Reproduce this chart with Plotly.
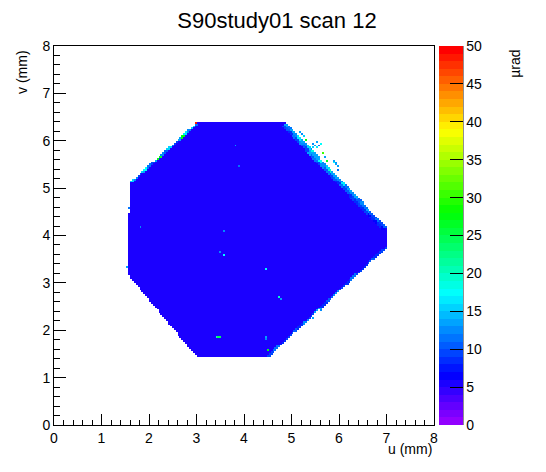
import colorsys
import numpy as np
import plotly.graph_objects as go

# ---------------- data ----------------
title_text = "S90study01 scan 12"
x_title = "u (mm)"
y_title = "v (mm)"
z_title = "µrad"

u_range = [0, 8]
v_range = [0, 8]
z_range = [0, 50]
bin_width = 0.04

# outline of the filled (measured) region, in mm
outline_u = [3.01, 4.88, 7.00, 7.00, 4.51, 3.01, 1.54, 1.60]
outline_v = [6.39, 6.39, 4.18, 3.74, 1.43, 1.43, 3.19, 5.13]
base_value = 5.5  # µrad, the bulk of the map

# noisy band along the upper-right edge (from top end to right tip)
ur_start = (4.88, 6.39)
ur_end = (7.00, 4.18)
ur_outer_values = [13, 11, 14, 12, 16, 13, 12, 15, 18, 14, 13, 17, 12, 15, 19, 13,
                   14, 12, 16, 11, 13, 12, 14, 10, 12, 11, 13, 10, 9, 11, 9, 10]
ur_inner_values = [9, 10, 8, 11, 9, 12, 10, 9, 13, 10, 11, 9, 12, 10, 11, 9,
                   10, 8, 11, 9, 10, 8, 9, 8, 9, 8, 9, 7, 8, 7, 8, 7]

# thin light fringe along the upper-left edge (from left corner to top)
ul_start = (1.60, 5.13)
ul_end = (3.01, 6.39)
ul_values = [15, 12, 9, 13, 17, 11, 9, 14, 26, 12, 10, 15, 11, 9, 13, 27, 16, 12, 15, 11]

# faint fringe along the lower-right edge (from right tip to bottom)
lr_start = (7.00, 3.74)
lr_end = (4.51, 1.43)
lr_values = [9, 8, 10, 8, 9, 11, 8, 9, 12, 10, 8, 14, 9, 12, 8, 10, 9, 8, 11, 9]

# isolated hot cells (u, v in mm; value in µrad)
spot_u = [5.49, 5.55, 5.45, 5.52, 5.60, 5.43, 5.47, 5.57,
          5.92, 5.97, 5.88, 5.95, 5.94, 5.98, 5.90,
          5.18, 5.24, 5.21, 5.70, 5.64, 5.73, 5.28,
          2.99, 1.87, 1.81, 1.54, 1.56,
          3.58, 3.50, 3.56, 4.46, 4.76, 4.78, 3.47, 3.51, 3.43, 4.46, 4.46,
          3.83, 3.89, 4.51, 5.45, 5.60]
spot_v = [5.90, 5.84, 5.94, 5.96, 5.95, 5.80, 5.87, 5.91,
          5.48, 5.44, 5.54, 5.52, 5.49, 5.38, 5.58,
          6.16, 6.08, 6.12, 5.64, 5.74, 5.57, 6.01,
          6.39, 5.34, 4.16, 3.34, 4.60,
          3.57, 3.64, 4.11, 3.31, 2.68, 2.66, 1.88, 1.88, 1.88, 1.86, 1.82,
          5.89, 5.44, 1.58, 2.28, 2.43]
spot_val = [14, 16, 12, 13, 17, 12, 15, 11,
            15, 13, 17, 12, 14, 11, 13,
            13, 15, 12, 14, 30, 26, 27,
            48, 15, 12, 14, 11,
            17, 12, 12, 17, 19, 14, 24, 24, 20, 13, 12,
            13, 11, 26, 14, 12]

z_ticks = [0, 5, 10, 15, 20, 25, 30, 35, 40, 45, 50]

# ---------------- build the histogram ----------------
nb = int(round((u_range[1] - u_range[0]) / bin_width))
xc = u_range[0] + bin_width * (np.arange(nb) + 0.5)
yc = v_range[0] + bin_width * (np.arange(nb) + 0.5)
X, Y = np.meshgrid(xc, yc)


def inside(px, py, pu, pv):
    res = np.zeros(px.shape, dtype=bool)
    n = len(pu)
    j = n - 1
    for i in range(n):
        xi, yi, xj, yj = pu[i], pv[i], pu[j], pv[j]
        cond = ((yi > py) != (yj > py)) & (px < (xj - xi) * (py - yi) / ((yj - yi) + 1e-12) + xi)
        res ^= cond
        j = i
    return res


def edge_coords(start, end):
    ax, ay = start
    bx, by = end
    dx, dy = bx - ax, by - ay
    L = np.hypot(dx, dy)
    t = ((X - ax) * dx + (Y - ay) * dy) / (L * L)
    dist = np.abs((X - ax) * dy - (Y - ay) * dx) / L
    return t, dist


mask = inside(X, Y, outline_u, outline_v)
Z = np.full(X.shape, np.nan)
Z[mask] = base_value


def paint(start, end, values, dmin, dmax):
    t, dist = edge_coords(start, end)
    sel = mask & (dist >= dmin) & (dist < dmax) & (t >= 0) & (t <= 1)
    idx = np.clip((t * len(values)).astype(int), 0, len(values) - 1)
    vals = np.array(values, dtype=float)
    Z[sel] = vals[idx[sel]]


paint(ur_start, ur_end, ur_inner_values, 0.06, 0.12)
paint(ur_start, ur_end, ur_outer_values, 0.0, 0.06)
paint(ul_start, ul_end, ul_values, 0.0, 0.045)
paint(lr_start, lr_end, lr_values, 0.0, 0.04)

for su, sv, val in zip(spot_u, spot_v, spot_val):
    i = int((sv - v_range[0]) / bin_width)
    j = int((su - u_range[0]) / bin_width)
    if 0 <= i < nb and 0 <= j < nb:
        Z[i, j] = val

z_list = [[None if np.isnan(v) else float(v) for v in row] for row in Z]

# ROOT "pretty" palette: 50 colours, violet -> red
ncol = 50
colorscale = []
for i in range(ncol):
    hue = (280 - (i + 1) * (280 / ncol)) / 360.0
    r, g, b = colorsys.hls_to_rgb(hue, 0.5, 1.0)
    c = "rgb(%d,%d,%d)" % (round(r * 255), round(g * 255), round(b * 255))
    colorscale.append([i / ncol, c])
    colorscale.append([(i + 1) / ncol, c])

FONT = "Liberation Sans, Arial, Helvetica, sans-serif"

# page body has an 8 px margin, so the figure is 8 px smaller and offset
W, H = 538, 464
ML, MT = 46, 38
PW, PH = 380, 379

fig = go.Figure()
fig.add_trace(go.Heatmap(
    x=xc, y=yc, z=z_list,
    zmin=z_range[0], zmax=z_range[1],
    colorscale=colorscale,
    hoverongaps=False,
    colorbar=dict(
        x=1.013, xanchor="left", xref="paper",
        y=0.5, yanchor="middle", len=1.0, lenmode="fraction",
        thickness=24, thicknessmode="pixels",
        xpad=0, ypad=0, outlinewidth=0,
        tickvals=z_ticks, ticks="inside", ticklen=13, tickcolor="black",
        tickfont=dict(family=FONT, size=14, color="black"),
    ),
))

fig.update_xaxes(
    range=u_range, tickvals=list(range(0, 9)),
    ticks="inside", ticklen=11, tickcolor="black",
    minor=dict(dtick=0.2, ticks="inside", ticklen=5, tickcolor="black", showgrid=False),
    showline=True, linecolor="black", linewidth=1, mirror=True,
    showgrid=False, zeroline=False,
    tickfont=dict(family=FONT, size=14, color="black"),
)
fig.update_yaxes(
    range=v_range, tickvals=list(range(0, 9)),
    ticks="inside", ticklen=12, tickcolor="black",
    minor=dict(dtick=0.2, ticks="inside", ticklen=6, tickcolor="black", showgrid=False),
    showline=True, linecolor="black", linewidth=1, mirror=True,
    showgrid=False, zeroline=False,
    tickfont=dict(family=FONT, size=14, color="black"),
)

fig.add_shape(type="line", xref="paper", yref="paper",
              x0=1.013 + 24 / PW, x1=1.013 + 24 / PW, y0=0, y1=1,
              line=dict(color="black", width=1))

fig.add_annotation(text=x_title, xref="paper", yref="paper", x=1.0, y=-0.063,
                   xanchor="right", yanchor="middle", showarrow=False,
                   font=dict(family=FONT, size=14, color="black"))
fig.add_annotation(text=y_title, xref="paper", yref="paper", x=-0.084, y=0.995,
                   xanchor="center", yanchor="top", textangle=-90, showarrow=False,
                   font=dict(family=FONT, size=14, color="black"))
fig.add_annotation(text=z_title, xref="paper", yref="paper", x=1.213, y=0.995,
                   xanchor="center", yanchor="top", textangle=-90, showarrow=False,
                   font=dict(family=FONT, size=14, color="black"))

fig.update_layout(
    width=W, height=H, autosize=False,
    margin=dict(l=ML, r=W - ML - PW, t=MT, b=H - MT - PH),
    paper_bgcolor="white", plot_bgcolor="white",
    title=dict(text=title_text, x=(277 - 8) / W, xref="container", xanchor="center",
               y=1 - (20 - 8) / H, yref="container", yanchor="middle",
               font=dict(family=FONT, size=22, color="black")),
    showlegend=False,
)

fig.write_html("out.html")
